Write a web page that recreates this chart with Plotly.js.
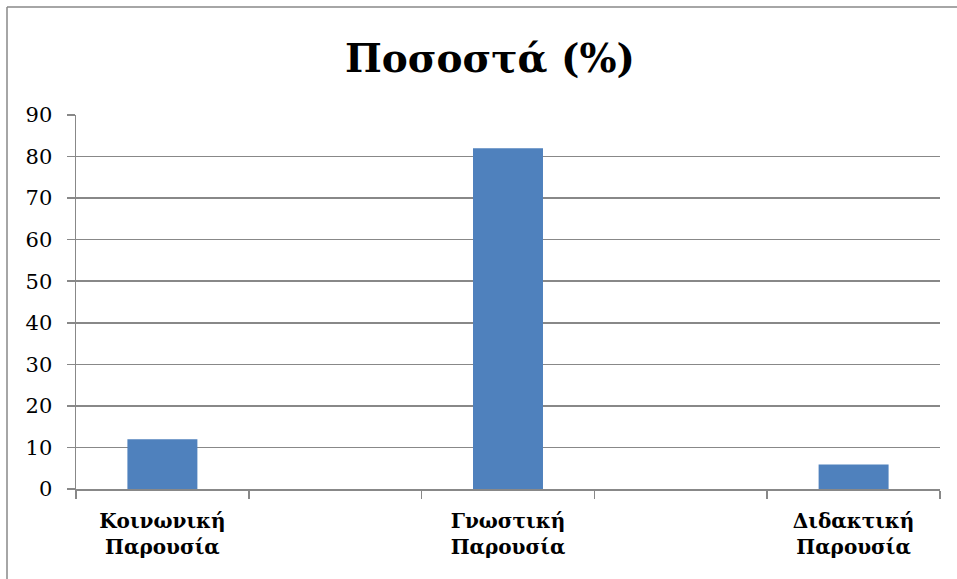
<!DOCTYPE html>
<html>
<head>
<meta charset="utf-8">
<script src="https://cdn.plot.ly/plotly-3.0.1.min.js"></script>
<style>
html,body{margin:0;padding:0;background:#fff;}
#chart{width:957px;height:579px;}
</style>
</head>
<body>
<div id="chart"></div>
<script>
// Data (blank categories are the empty columns of the original sheet)
var categories = ["Κοινωνική<br>Παρουσία", " ", "Γνωστική<br>Παρουσία", "  ", "Διδακτική<br>Παρουσία"];
var values = [12, null, 82, null, 5.9];
var yTicks = [0, 10, 20, 30, 40, 50, 60, 70, 80, 90];
var chartTitle = "Ποσοστά (%)";

var grey = "#888888";
var serif = "DejaVu Serif";

var L = 76, R = 17, T = 115, B = 90, W = 957, H = 579;
var pw = W - L - R, ph = H - T - B;
function px(x){ return (x - L) / pw; }
function py(y){ return (H - B - y) / ph; }

var trace = {
  type: "bar",
  x: categories,
  y: values,
  marker: { color: "#4f81bd", line: { width: 0 } },
  hoverinfo: "x+y"
};

var layout = {
  width: W, height: H,
  margin: { l: L, r: R, t: T, b: B, pad: 0 },
  paper_bgcolor: "#ffffff",
  plot_bgcolor: "#ffffff",
  showlegend: false,
  bargap: 0.595,
  font: { family: serif },
  title: {
    text: "<b>" + chartTitle + "</b>",
    font: { family: serif, size: 39, color: "#000000" },
    x: 0.512, xanchor: "center",
    y: 0.9, yanchor: "middle", yref: "container"
  },
  xaxis: {
    type: "category",
    categoryorder: "array",
    categoryarray: categories,
    range: [-0.5, 4.5],
    tickson: "boundaries",
    ticks: "outside",
    ticklen: 8,
    tickcolor: grey,
    tickwidth: 1.5,
    showline: true,
    linecolor: grey,
    linewidth: 1.5,
    showgrid: false,
    zeroline: false,
    tickfont: { family: serif, size: 20, color: "#000000", weight: "bold" },
    ticklabelstandoff: 13,
    fixedrange: true
  },
  yaxis: {
    range: [0, 90],
    tickvals: yTicks,
    ticktext: yTicks.map(String),
    ticks: "outside",
    ticklen: 8,
    tickcolor: grey,
    tickwidth: 1.5,
    showline: true,
    linecolor: grey,
    linewidth: 1.5,
    showgrid: true,
    gridcolor: grey,
    gridwidth: 1.5,
    zeroline: false,
    tickfont: { family: serif, size: 21, color: "#000000" },
    ticklabelstandoff: 10,
    fixedrange: true
  },
  shapes: [
    { type: "line", xref: "paper", yref: "paper",
      x0: px(7), x1: px(7), y0: py(7), y1: py(600),
      line: { color: grey, width: 1.5 } },
    { type: "line", xref: "paper", yref: "paper",
      x0: px(7), x1: px(960), y0: py(7), y1: py(7),
      line: { color: grey, width: 1.5 } }
  ]
};

Plotly.newPlot("chart", [trace], layout, { displayModeBar: false, staticPlot: true });
</script>
</body>
</html>
